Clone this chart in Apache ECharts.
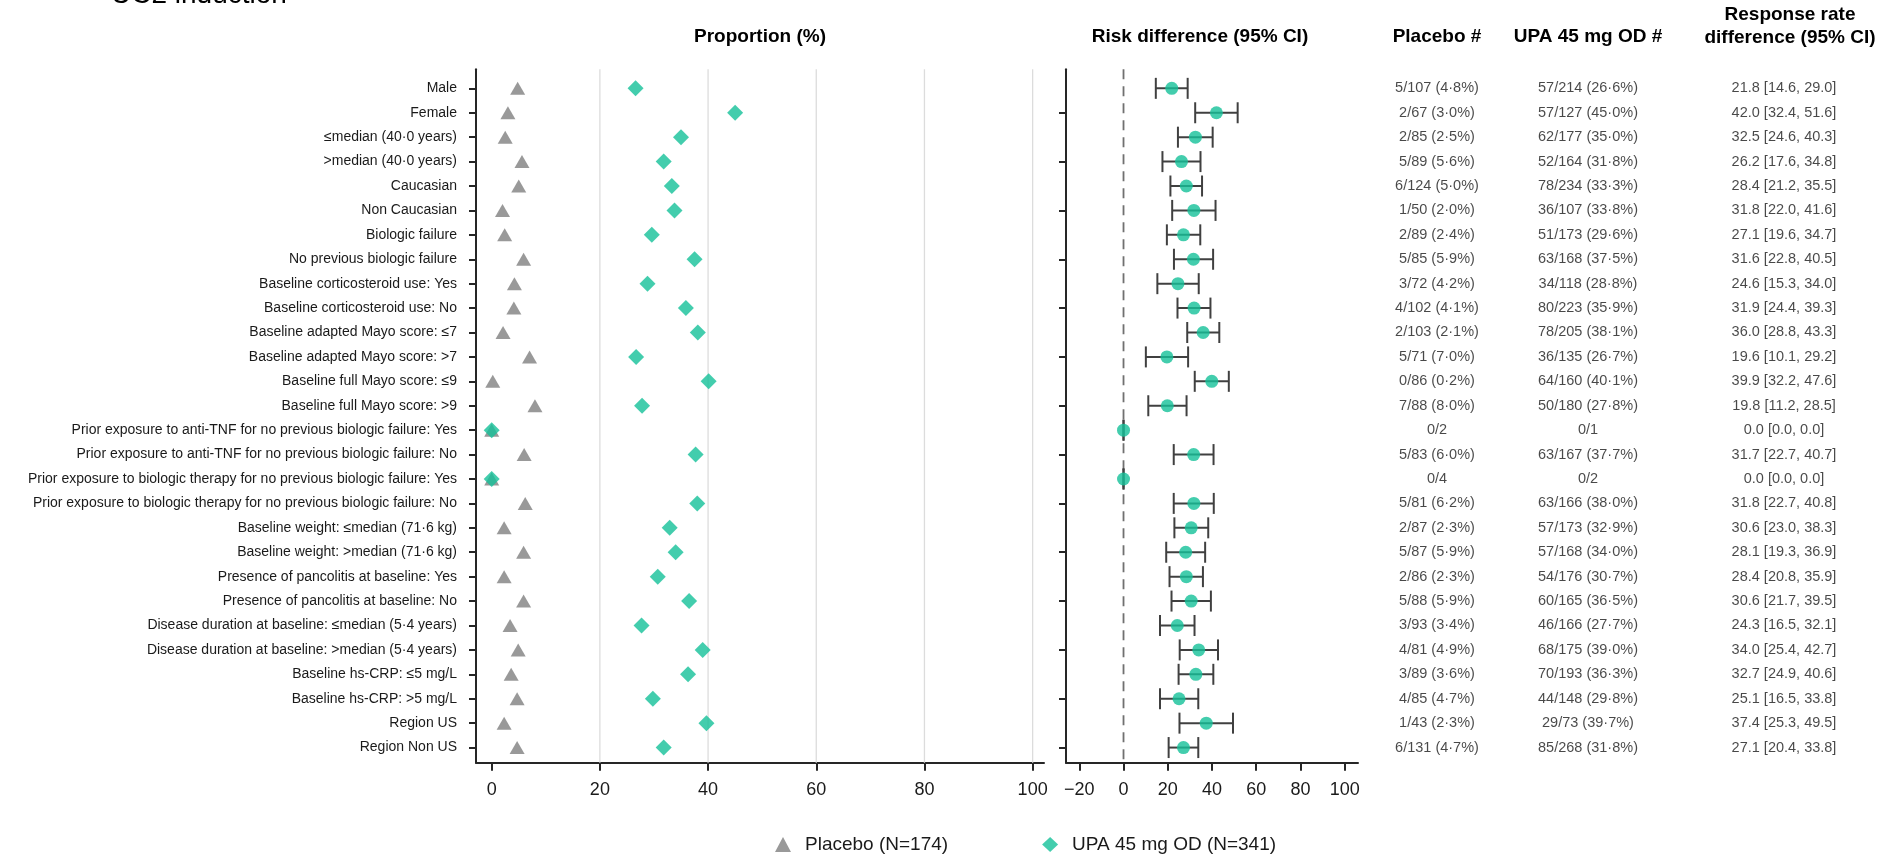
<!DOCTYPE html>
<html>
<head>
<meta charset="utf-8">
<script src="https://cdn.jsdelivr.net/npm/echarts@6/dist/echarts.min.js"></script>
<style>
html,body{margin:0;padding:0;background:#fff;}
#chart{width:1896px;height:854px;}
</style>
</head>
<body>
<div id="chart"></div>
<script>
// ---------- DATA ----------
const categories = [
  'Male','Female','\u2264median (40\u00B70 years)','>median (40\u00B70 years)','Caucasian','Non Caucasian',
  'Biologic failure','No previous biologic failure','Baseline corticosteroid use: Yes','Baseline corticosteroid use: No',
  'Baseline adapted Mayo score: \u22647','Baseline adapted Mayo score: >7','Baseline full Mayo score: \u22649','Baseline full Mayo score: >9',
  'Prior exposure to anti-TNF for no previous biologic failure: Yes','Prior exposure to anti-TNF for no previous biologic failure: No',
  'Prior exposure to biologic therapy for no previous biologic failure: Yes','Prior exposure to biologic therapy for no previous biologic failure: No',
  'Baseline weight: \u2264median (71\u00B76 kg)','Baseline weight: >median (71\u00B76 kg)',
  'Presence of pancolitis at baseline: Yes','Presence of pancolitis at baseline: No',
  'Disease duration at baseline: \u2264median (5\u00B74 years)','Disease duration at baseline: >median (5\u00B74 years)',
  'Baseline hs-CRP: \u22645 mg/L','Baseline hs-CRP: >5 mg/L','Region US','Region Non US'
];
const placeboResp = [5,2,2,5,6,1,2,5,3,4,2,5,0,7,0,5,0,5,2,5,2,5,3,4,3,4,1,6];
const placeboN    = [107,67,85,89,124,50,89,85,72,102,103,71,86,88,2,83,4,81,87,87,86,88,93,81,89,85,43,131];
const placeboPct  = [4.8,3.0,2.5,5.6,5.0,2.0,2.4,5.9,4.2,4.1,2.1,7.0,0.2,8.0,0,6.0,0,6.2,2.3,5.9,2.3,5.9,3.4,4.9,3.6,4.7,2.3,4.7];
const upaResp     = [57,57,62,52,78,36,51,63,34,80,78,36,64,50,0,63,0,63,57,57,54,60,46,68,70,44,29,85];
const upaN        = [214,127,177,164,234,107,173,168,118,223,205,135,160,180,1,167,2,166,173,168,176,165,166,175,193,148,73,268];
const upaPct      = [26.6,45.0,35.0,31.8,33.3,33.8,29.6,37.5,28.8,35.9,38.1,26.7,40.1,27.8,0,37.7,0,38.0,32.9,34.0,30.7,36.5,27.7,39.0,36.3,29.8,39.7,31.8];
const riskDiff    = [21.8,42.0,32.5,26.2,28.4,31.8,27.1,31.6,24.6,31.9,36.0,19.6,39.9,19.8,0.0,31.7,0.0,31.8,30.6,28.1,28.4,30.6,24.3,34.0,32.7,25.1,37.4,27.1];
const riskLo      = [14.6,32.4,24.6,17.6,21.2,22.0,19.6,22.8,15.3,24.4,28.8,10.1,32.2,11.2,0.0,22.7,0.0,22.7,23.0,19.3,20.8,21.7,16.5,25.4,24.9,16.5,25.3,20.4];
const riskHi      = [29.0,51.6,40.3,34.8,35.5,41.6,34.7,40.5,34.0,39.3,43.3,29.2,47.6,28.5,0.0,40.7,0.0,40.8,38.3,36.9,35.9,39.5,32.1,42.7,40.6,33.8,49.5,33.8];
const proportionTicks = [0,20,40,60,80,100];
const proportionGridLines = [20,40,60,80,100];
const riskTicks = [-20,0,20,40,60,80,100];
const riskRefLine = [0];
const placeboLabel = 'Placebo (N=174)';
const upaLabel = 'UPA 45 mg OD (N=341)';

// ---------- LAYOUT / STYLE ----------
const FONT = '"Liberation Sans", Arial, Helvetica, sans-serif';
const TEAL = '#14c098';
const GREY = '#7f7f7f';
const AXIS = '#262626';
const TXT = '#1a1a1a';
const TOP = 69.3, HEIGHT = 693.4;
const Y_MIN = -0.78, Y_MAX = 27.62;
const rowIdx = categories.map((_, i) => i);
const oddIdx = rowIdx.filter(i => i % 2 === 1);
const colX = [1437, 1588, 1784];

const dot = v => v.toFixed(1).replace('.', '\u00B7');
const placeboText = placeboResp.map((r, i) => placeboPct[i] === 0 ? `${r}/${placeboN[i]}` : `${r}/${placeboN[i]} (${dot(placeboPct[i])}%)`);
const upaText = upaResp.map((r, i) => upaPct[i] === 0 ? `${r}/${upaN[i]}` : `${r}/${upaN[i]} (${dot(upaPct[i])}%)`);
const rrText = riskDiff.map((d, i) => `${d.toFixed(1)} [${riskLo[i].toFixed(1)}, ${riskHi[i].toFixed(1)}]`);
const tableCols = [placeboText, upaText, rrText];

const axisLineStyle = { show: true, onZero: false, lineStyle: { color: AXIS, width: 2 } };

function yAx(gridIndex, extra) {
  return Object.assign({
    type: 'value', gridIndex, inverse: true, min: Y_MIN, max: Y_MAX,
    splitLine: { show: false },
    axisLine: axisLineStyle,
    axisTick: { show: true, length: 7, lineStyle: { color: AXIS, width: 2 } },
    axisLabel: { show: false }
  }, extra);
}

const chart = echarts.init(document.getElementById('chart'), null, { renderer: 'canvas' });

const vline = (style) => function (params, api) {
  const x = api.coord([api.value(0), 0])[0];
  const cs = params.coordSys;
  return { type: 'line', shape: { x1: x, y1: cs.y, x2: x, y2: cs.y + cs.height }, style };
};

const option = {
  animation: false,
  backgroundColor: '#fff',
  textStyle: { fontFamily: FONT },
  grid: [
    { left: 476, top: TOP, width: 568, height: HEIGHT },
    { left: 1066, top: TOP, width: 292, height: HEIGHT },
    { left: 1380, top: TOP, width: 500, height: HEIGHT }
  ],
  xAxis: [
    {
      type: 'value', gridIndex: 0, min: -2.9, max: 102.1,
      splitLine: { show: false },
      axisLine: axisLineStyle,
      axisTick: { show: true, length: 8, customValues: proportionTicks, lineStyle: { color: AXIS, width: 2 } },
      axisLabel: { customValues: proportionTicks, fontSize: 18, lineHeight: 18, margin: 18, color: TXT, fontFamily: FONT }
    },
    {
      type: 'value', gridIndex: 1, min: -26, max: 106,
      splitLine: { show: false },
      axisLine: axisLineStyle,
      axisTick: { show: true, length: 8, customValues: riskTicks, lineStyle: { color: AXIS, width: 2 } },
      axisLabel: { customValues: riskTicks, fontSize: 18, lineHeight: 18, margin: 18, color: TXT, fontFamily: FONT,
        formatter: v => (v < 0 ? '\u2212' + Math.abs(v) : String(v)) }
    },
    { type: 'value', gridIndex: 2, min: 1380, max: 1880, show: false }
  ],
  yAxis: [
    yAx(0, {
      axisTick: { show: true, length: 7, customValues: rowIdx, lineStyle: { color: AXIS, width: 2 } },
      axisLabel: { show: true, customValues: rowIdx, formatter: v => categories[v] || '', fontSize: 14, color: TXT, margin: 19, fontFamily: FONT }
    }),
    yAx(1, {
      axisTick: { show: true, length: 7, customValues: oddIdx, lineStyle: { color: AXIS, width: 2 } }
    }),
    { type: 'value', gridIndex: 2, inverse: true, min: Y_MIN, max: Y_MAX, show: false }
  ],
  legend: {
    data: [{ name: placeboLabel, icon: 'triangle' }, { name: upaLabel, icon: 'diamond' }],
    left: 770, top: 830, itemWidth: 16, itemHeight: 15, itemGap: 94, selectedMode: false,
    textStyle: { fontSize: 19, color: TXT, fontFamily: FONT, padding: [0, 0, 0, 9] }
  },
  graphic: [
    { type: 'text', x: 111, y: -5, style: { text: 'UC2 induction', fontSize: 28, fontFamily: FONT, fill: '#000', align: 'left', verticalAlign: 'middle' } },
    { type: 'text', x: 760, y: 37, style: { text: 'Proportion (%)', fontSize: 19, fontWeight: 'bold', fontFamily: FONT, fill: '#000', align: 'center', verticalAlign: 'middle' } },
    { type: 'text', x: 1200, y: 37, style: { text: 'Risk difference (95% CI)', fontSize: 19, fontWeight: 'bold', fontFamily: FONT, fill: '#000', align: 'center', verticalAlign: 'middle' } },
    { type: 'text', x: 1437, y: 37, style: { text: 'Placebo #', fontSize: 19, fontWeight: 'bold', fontFamily: FONT, fill: '#000', align: 'center', verticalAlign: 'middle' } },
    { type: 'text', x: 1588, y: 37, style: { text: 'UPA 45 mg OD #', fontSize: 19, fontWeight: 'bold', fontFamily: FONT, fill: '#000', align: 'center', verticalAlign: 'middle' } },
    { type: 'text', x: 1790, y: 15, style: { text: 'Response rate', fontSize: 19, fontWeight: 'bold', fontFamily: FONT, fill: '#000', align: 'center', verticalAlign: 'middle' } },
    { type: 'text', x: 1790, y: 38, style: { text: 'difference (95% CI)', fontSize: 19, fontWeight: 'bold', fontFamily: FONT, fill: '#000', align: 'center', verticalAlign: 'middle' } }
  ],
  series: [
    {
      type: 'custom', name: 'grid', xAxisIndex: 0, yAxisIndex: 0, z: 1, silent: true,
      data: proportionGridLines.map(v => [v, 0]),
      encode: { x: 0, y: 1 },
      renderItem: vline({ stroke: '#dcdcdc', lineWidth: 1.3 })
    },
    {
      type: 'custom', name: 'zero', xAxisIndex: 1, yAxisIndex: 1, z: 1, silent: true,
      data: riskRefLine.map(v => [v, 0]),
      encode: { x: 0, y: 1 },
      renderItem: vline({ stroke: '#707070', lineWidth: 1.8, lineDash: [10, 7] })
    },
    {
      type: 'scatter', name: placeboLabel, xAxisIndex: 0, yAxisIndex: 0, z: 3,
      symbol: 'triangle', symbolSize: [15, 13],
      itemStyle: { color: GREY },
      data: placeboPct.map((v, i) => [v, i])
    },
    {
      type: 'scatter', name: upaLabel, xAxisIndex: 0, yAxisIndex: 0, z: 4,
      symbol: 'diamond', symbolSize: 16,
      itemStyle: { color: TEAL },
      data: upaPct.map((v, i) => [v, i])
    },
    {
      type: 'custom', name: 'ci', xAxisIndex: 1, yAxisIndex: 1, z: 3, silent: true,
      data: riskLo.map((lo, i) => [lo, riskHi[i], i]),
      encode: { x: [0, 1], y: 2 },
      renderItem: function (params, api) {
        const p1 = api.coord([api.value(0), api.value(2)]);
        const p2 = api.coord([api.value(1), api.value(2)]);
        const h = 10.5;
        const st = { stroke: '#404040', lineWidth: 2 };
        return {
          type: 'group', children: [
            { type: 'line', shape: { x1: p1[0], y1: p1[1], x2: p2[0], y2: p2[1] }, style: st },
            { type: 'line', shape: { x1: p1[0], y1: p1[1] - h, x2: p1[0], y2: p1[1] + h }, style: st },
            { type: 'line', shape: { x1: p2[0], y1: p2[1] - h, x2: p2[0], y2: p2[1] + h }, style: st }
          ]
        };
      }
    },
    {
      type: 'scatter', name: 'Risk difference', xAxisIndex: 1, yAxisIndex: 1, z: 5,
      symbol: 'circle', symbolSize: 13,
      itemStyle: { color: TEAL },
      data: riskDiff.map((v, i) => [v, i])
    }
  ].concat(tableCols.map((texts, c) => ({
    type: 'scatter', name: 'table' + c, xAxisIndex: 2, yAxisIndex: 2, z: 5, silent: true,
    symbolSize: 1, itemStyle: { color: 'rgba(0,0,0,0)' },
    data: rowIdx.map(i => [colX[c], i]),
    label: { show: true, position: 'inside', formatter: p => texts[p.dataIndex], fontSize: 14.5, color: TXT, fontFamily: FONT }
  })))
};
chart.setOption(option);
</script>
</body>
</html>
